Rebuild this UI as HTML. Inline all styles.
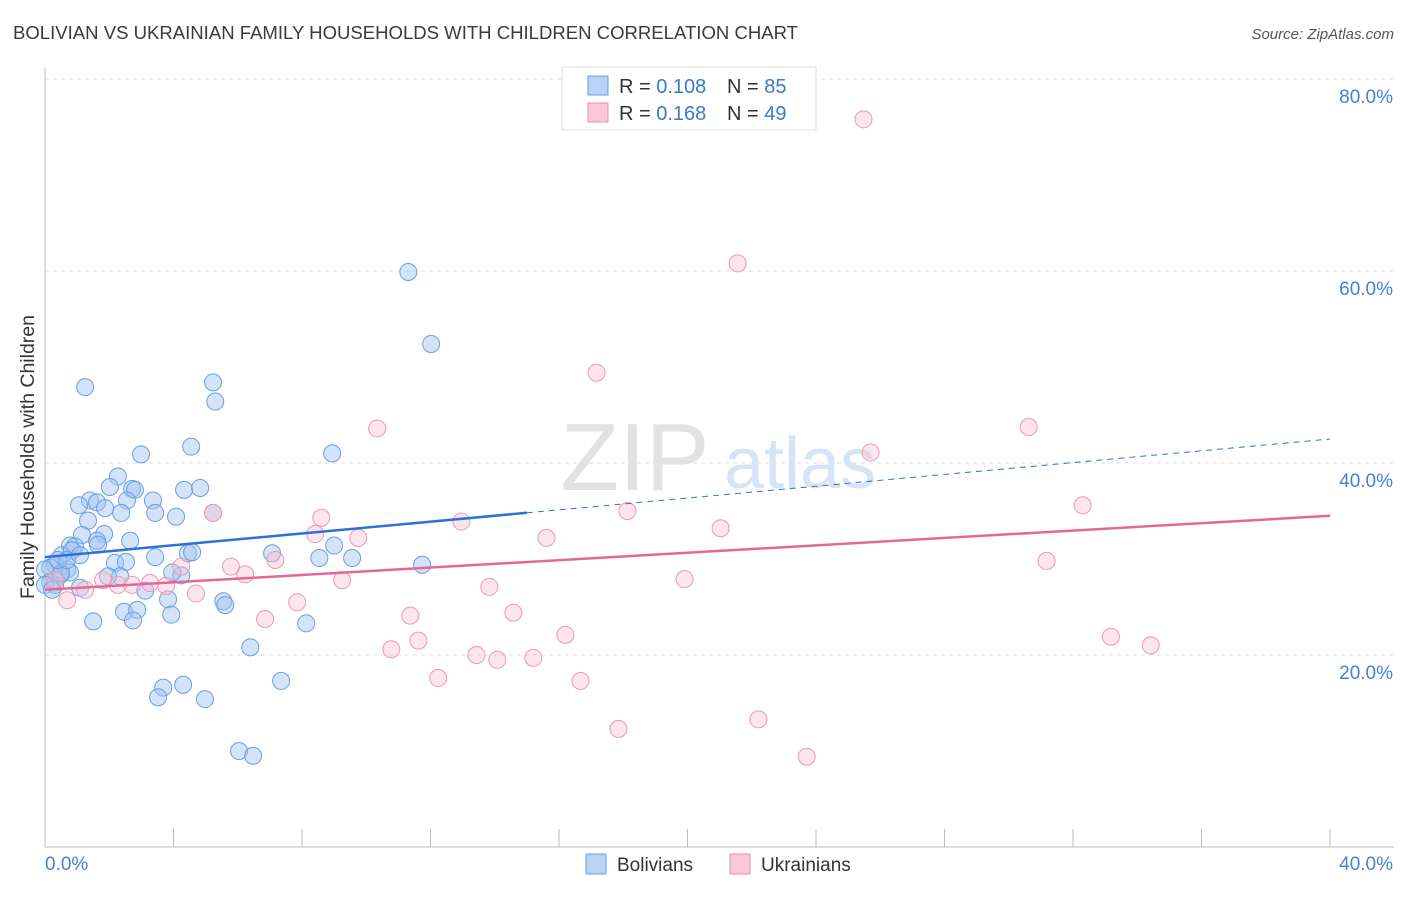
<!DOCTYPE html>
<html><head><meta charset="utf-8"><style>
body{margin:0;background:#fff;font-family:"Liberation Sans",sans-serif}
svg text{font-family:"Liberation Sans",sans-serif}
</style></head><body>
<svg id="chart" width="1406" height="892" viewBox="0 0 1406 892">
<text x="13" y="39" font-size="18" fill="#3a3a3a" textLength="785" lengthAdjust="spacingAndGlyphs">BOLIVIAN VS UKRAINIAN FAMILY HOUSEHOLDS WITH CHILDREN CORRELATION CHART</text>
<text x="1394" y="39" font-size="15" fill="#555" font-style="italic" text-anchor="end">Source: ZipAtlas.com</text>
<text transform="translate(34,457) rotate(-90)" font-size="19.5" fill="#333" text-anchor="middle">Family Households with Children</text>
<g id="grid"></g>
<g><text x="635" y="490" font-size="96" fill="#e2e2e2" font-family="Liberation Serif" text-anchor="middle">ZIP</text><text x="800" y="488" font-size="72" fill="#d6e4f5" text-anchor="middle">atlas</text></g>
<g id="marks"></g>
<g>
<rect x="562" y="67" width="254" height="63" fill="#fff" stroke="#ddd"/>
<rect x="588" y="76" width="20" height="19" fill="#b9d3f5" stroke="#6a9ee0"/>
<rect x="588" y="103" width="20" height="19" fill="#f9c9d7" stroke="#e98fab"/>
<text x="619" y="93" font-size="20" fill="#333">R = <tspan fill="#3a78d4">0.108</tspan></text>
<text x="727" y="93" font-size="20" fill="#333">N = <tspan fill="#3a78d4">85</tspan></text>
<text x="619" y="120" font-size="20" fill="#333">R = <tspan fill="#3a78d4">0.168</tspan></text>
<text x="727" y="120" font-size="20" fill="#333">N = <tspan fill="#3a78d4">49</tspan></text>
</g>
<g>
<rect x="586" y="854" width="20" height="20" fill="#b9d3f5" stroke="#6a9ee0"/>
<text x="617" y="871" font-size="19" fill="#333">Bolivians</text>
<rect x="730" y="854" width="20" height="20" fill="#f9c9d7" stroke="#e98fab"/>
<text x="761" y="871" font-size="19" fill="#333">Ukrainians</text>
</g>
</svg>
<script>
const yTicks=[20,40,60,80];
const xTickLabels=["0.0%","40.0%"];
const bolX=[1.25,5.23,5.30,4.55,2.99,8.94,11.31,12.02,2.27,2.02,2.71,2.80,4.33,4.83,3.36,2.55,1.40,1.62,1.06,1.87,2.37,3.43,4.08,1.34,1.15,1.84,1.62,2.65,0.78,0.93,1.65,0.53,0.84,3.43,4.45,4.58,7.07,9.00,8.54,9.56,11.74,2.18,2.52,0.69,0.31,0.16,0.0,0.47,0.78,4.24,3.96,2.34,1.96,3.12,3.83,5.55,5.61,0.31,0.16,1.09,2.46,2.87,2.74,3.93,1.50,8.13,6.39,7.35,3.68,3.52,4.30,4.98,6.04,6.48,0.50,0.0,0.22,0.40,0.69,1.09,5.23];
const bolY=[47.9,48.4,46.4,41.7,40.9,41.0,59.9,52.4,38.6,37.5,37.3,37.2,37.2,37.4,36.1,36.1,36.1,35.9,35.6,35.3,34.8,34.8,34.4,34.0,32.5,32.6,31.9,31.9,31.4,31.3,31.5,30.4,30.9,30.2,30.6,30.7,30.6,31.4,30.1,30.1,29.4,29.6,29.7,28.9,29.4,29.1,28.9,28.3,28.6,28.3,28.6,28.2,28.2,26.7,25.8,25.6,25.2,27.3,27.6,27.0,24.5,24.7,23.6,24.2,23.5,23.3,20.8,17.3,16.6,15.6,16.9,15.4,10.0,9.5,28.5,27.3,26.8,29.9,29.9,30.4,34.8];
const ukrX=[25.48,21.56,17.17,10.34,30.62,25.70,5.23,8.60,12.96,18.13,21.03,32.30,15.61,9.75,8.41,5.79,6.23,7.17,4.24,3.27,1.81,2.27,2.71,3.77,4.70,9.25,7.85,13.83,19.91,31.18,6.85,11.37,11.62,10.78,12.24,13.43,14.08,15.20,16.20,14.58,16.67,17.85,22.21,23.71,33.18,34.42,0.69,1.25,0.31];
const ukrY=[75.8,60.8,49.4,43.6,43.75,41.1,34.8,34.3,33.9,35.0,33.2,35.6,32.2,32.2,32.6,29.2,28.4,29.9,29.2,27.5,27.8,27.3,27.3,27.2,26.4,27.8,25.5,27.1,27.9,29.8,23.75,24.1,21.5,20.6,17.6,20.0,19.5,19.7,22.1,24.4,17.3,12.3,13.3,9.4,21.9,21.0,25.7,26.8,27.8];
const bolTrend=[30.2,42.5];
const ukrTrend=[26.8,34.5];
const bolSolidEnd=15;
const X=v=>45+v*(1285/40), Y=v=>847-v*9.6;
const NS="http://www.w3.org/2000/svg";
function mk(t,a,p){const e=document.createElementNS(NS,t);for(const k in a)e.setAttribute(k,a[k]);p.appendChild(e);return e;}
const grid=document.getElementById('grid'),marks=document.getElementById('marks');
yTicks.forEach(v=>{
 const l=mk('line',{x1:45,x2:1394,y1:Y(v),y2:Y(v),stroke:'#ddd','stroke-dasharray':'4,4'},grid);
 
 
 const t=mk('text',{x:1393,y:Y(v)+24,'font-size':19,fill:'#4a80d4','text-anchor':'end'},grid);
 t.textContent=v.toFixed(1)+'%';
 
 
});
const ax=mk('line',{x1:45,x2:45,y1:68,y2:847,stroke:'#bbb'},grid);


const bx=mk('line',{x1:45,x2:1394,y1:847,y2:847,stroke:'#bbb'},grid);


for(let i=0;i<=10;i++){const tk=mk('line',{x1:X(i*4),x2:X(i*4),y1:829,y2:847,stroke:'#bbb'},grid);
 
 }
xTickLabels.forEach((s,i)=>{const t=mk('text',{x:i?1393:45,y:870,'font-size':19,fill:'#4a80d4','text-anchor':i?'end':'start'},grid);t.textContent=s;
 
 });
bolX.forEach((v,i)=>{const c=mk('circle',{cx:X(v),cy:Y(bolY[i]),r:8.5,fill:'rgba(160,196,240,0.45)',stroke:'#6a9ee0','stroke-width':1},marks);
 
 });
ukrX.forEach((v,i)=>{const c=mk('circle',{cx:X(v),cy:Y(ukrY[i]),r:8.5,fill:'rgba(248,190,208,0.4)',stroke:'#eb9ab3','stroke-width':1},marks);
 
 });
const bt=v=>bolTrend[0]+(bolTrend[1]-bolTrend[0])*v/40;
const l1=mk('line',{x1:X(0),y1:Y(bt(0)),x2:X(bolSolidEnd),y2:Y(bt(bolSolidEnd)),stroke:'#2a72d8','stroke-width':2.5},marks);


const l2=mk('line',{x1:X(bolSolidEnd),y1:Y(bt(bolSolidEnd)),x2:X(40),y2:Y(bt(40)),stroke:'#2a72d8','stroke-width':1,'stroke-dasharray':'6,5'},marks);


const l3=mk('line',{x1:X(0),y1:Y(ukrTrend[0]),x2:X(40),y2:Y(ukrTrend[1]),stroke:'#e4679a','stroke-width':2.5},marks);


</script>
</body></html>
